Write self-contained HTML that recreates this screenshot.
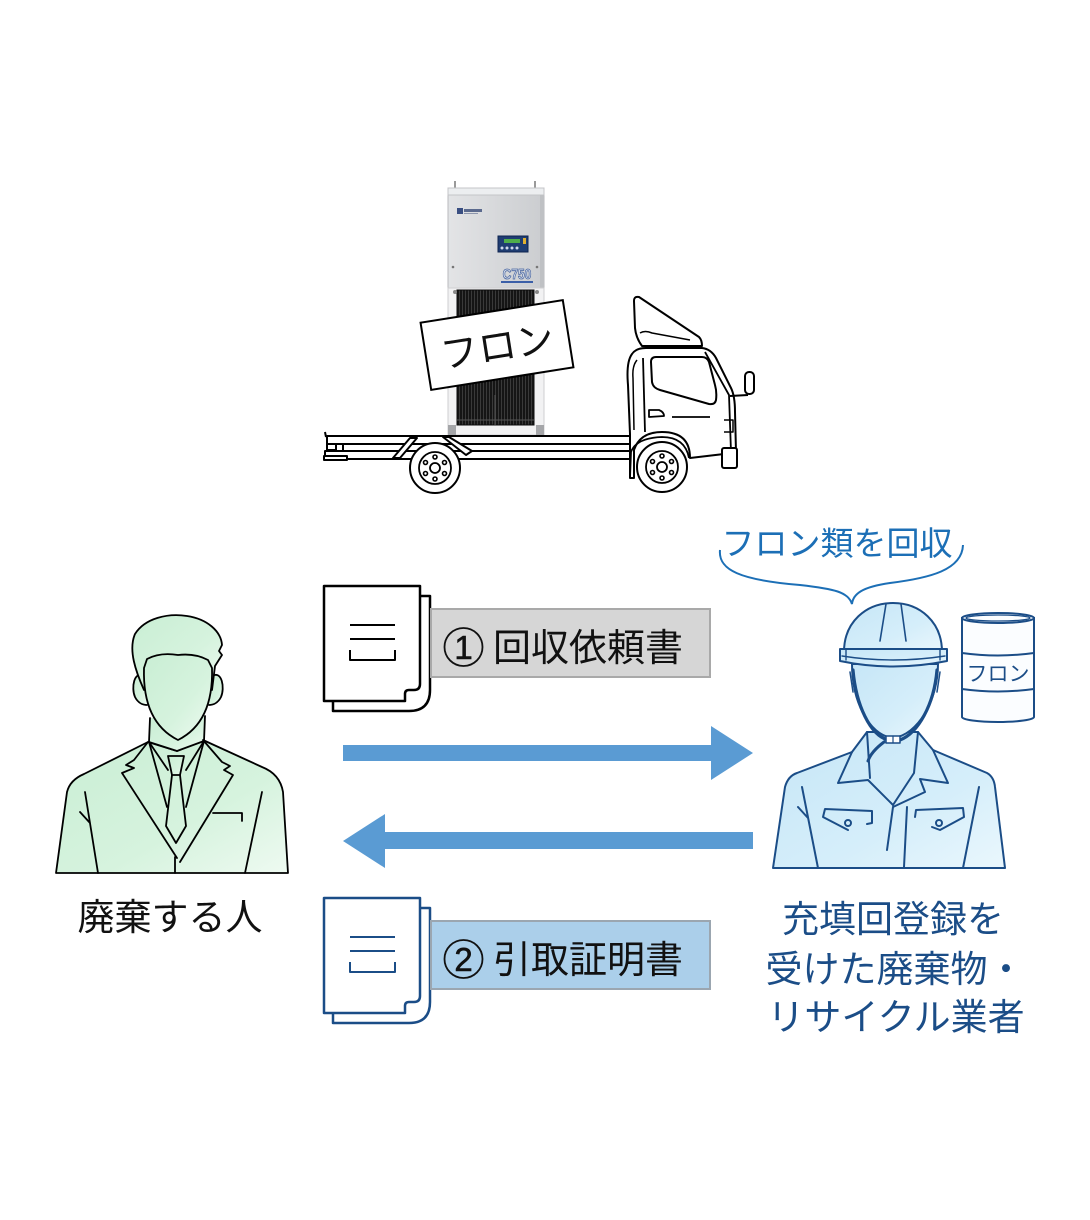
<!DOCTYPE html>
<html>
<head>
<meta charset="utf-8">
<style>
html,body{margin:0;padding:0;background:#fff;}
body{width:1090px;height:1220px;overflow:hidden;}
svg{display:block;}
text{font-family:"Liberation Sans","Noto Sans CJK JP",sans-serif;}
</style>
</head>
<body>
<svg width="1090" height="1220" viewBox="0 0 1090 1220" xmlns="http://www.w3.org/2000/svg">
<defs>
  <linearGradient id="gGreen" x1="0" y1="0" x2="1" y2="1">
    <stop offset="0" stop-color="#c9eed4"/>
    <stop offset="0.6" stop-color="#d6f3de"/>
    <stop offset="1" stop-color="#eefaf1"/>
  </linearGradient>
  <linearGradient id="gBlue" x1="0" y1="0" x2="1" y2="1">
    <stop offset="0" stop-color="#c6e6f7"/>
    <stop offset="0.6" stop-color="#d5eefa"/>
    <stop offset="1" stop-color="#eaf7fd"/>
  </linearGradient>
  <linearGradient id="gMach" x1="0" y1="0" x2="1" y2="0">
    <stop offset="0" stop-color="#e3e4e6"/>
    <stop offset="1" stop-color="#cbcdd0"/>
  </linearGradient>
  <pattern id="rad" width="3" height="10" patternUnits="userSpaceOnUse">
    <rect width="3" height="10" fill="#151515"/>
    <rect x="0" width="1" height="10" fill="#3a3a3a"/>
  </pattern>
</defs>

<!-- ================= MACHINE ================= -->
<g>
  <line x1="455" y1="181" x2="455" y2="191" stroke="#9a9a9a" stroke-width="2"/>
  <line x1="535" y1="181" x2="535" y2="191" stroke="#9a9a9a" stroke-width="2"/>
  <rect x="448" y="188" width="96" height="102" fill="url(#gMach)" stroke="#b9babd" stroke-width="1"/>
  <rect x="448" y="188" width="96" height="7" fill="#eceef0" stroke="#c4c5c8" stroke-width="1"/>
  <rect x="540" y="195" width="4" height="95" fill="#bfc1c4"/>
  <rect x="457" y="208" width="6" height="6" fill="#3a4f82"/>
  <rect x="464" y="209" width="18" height="3" fill="#5b6a8e"/>
  <rect x="464" y="213" width="14" height="1" fill="#8e97ad"/>
  <rect x="498" y="236" width="30" height="16" fill="#1f3d72" stroke="#0e2450" stroke-width="1"/>
  <rect x="504" y="239" width="16" height="4" fill="#4fae4a"/>
  <rect x="523" y="238" width="3" height="6" fill="#e0b030"/>
  <circle cx="502" cy="248" r="1.5" fill="#cfd8ea"/>
  <circle cx="507" cy="248" r="1.5" fill="#cfd8ea"/>
  <circle cx="512" cy="248" r="1.5" fill="#cfd8ea"/>
  <circle cx="517" cy="248" r="1.5" fill="#cfd8ea"/>
  <text x="517" y="279" text-anchor="middle" font-size="15" font-weight="bold" fill="#d7deea" stroke="#4a66a0" stroke-width="0.8" transform="translate(517,0) scale(0.8,1) translate(-517,0)">C750</text>
  <rect x="501" y="281" width="32" height="2" fill="#3b5fa8"/>
  <circle cx="453" cy="267" r="1.3" fill="#777"/>
  <circle cx="537" cy="267" r="1.3" fill="#777"/>
  <rect x="448" y="288" width="96" height="147" fill="#f2f2f3" stroke="#cfcfd1" stroke-width="1"/>
  <rect x="457" y="290" width="77" height="135" fill="url(#rad)"/>
  <rect x="457" y="290" width="77" height="135" fill="none" stroke="#0b0b0b" stroke-width="1"/>
  <line x1="457" y1="420" x2="534" y2="420" stroke="#555" stroke-width="1"/>
  <line x1="495" y1="395" x2="495" y2="425" stroke="#555" stroke-width="1"/>
  <circle cx="455" cy="292" r="2" fill="#888"/>
  <circle cx="537" cy="292" r="2" fill="#888"/>
  <rect x="448" y="425" width="8" height="12" fill="#a5a6a9"/>
  <rect x="536" y="425" width="8" height="12" fill="#a5a6a9"/>
</g>

<!-- sign -->
<g transform="rotate(-9 497 345)">
  <rect x="425" y="311" width="144" height="68" fill="#fff" stroke="#000" stroke-width="2"/>
  <text x="497" y="360" text-anchor="middle" font-size="38" fill="#111">フロン</text>
</g>

<!-- ================= TRUCK ================= -->
<g fill="#fff" stroke="#000" stroke-width="2" stroke-linejoin="round">
  <path d="M325,432 L326,437" fill="none"/>
  <rect x="327" y="436" width="303" height="8"/>
  <rect x="327" y="444" width="9" height="6"/>
  <line x1="343" y1="444" x2="343" y2="451"/>
  <rect x="325" y="451" width="308" height="8"/>
  <rect x="324" y="456" width="23" height="4" fill="#fff"/>
  <path d="M393,458 L410,438 L417,438 L400,458 Z"/>
  <path d="M443,437 L449,437 L472,451 L466,455 Z"/>
  <path d="M634,301 Q634,296 639,297 L699,337 Q702,340 702,346 L642,346 Q636,338 635,328 Z"/>
  <path d="M640,333 Q645,330 652,333 L690,340" fill="none" stroke-width="1.5"/>
  <path d="M630,434 L628,385 Q626,362 632,354 Q636,348 646,348 L702,348 Q711,349 716,358 L731,388 Q735,396 735,412 L736,452 L724,454 L690,458 Q690,432 662,432 Q640,432 634,450 L634,478 L630,478 Z"/>
  <path d="M634,430 L633,378 Q632,366 637,360" fill="none" stroke-width="1.5"/>
  <path d="M643,358 L645,432" fill="none" stroke-width="1.8"/>
  <path d="M705,352 L729,395 L731,452" fill="none" stroke-width="1.8"/>
  <path d="M651,362 Q651,357 656,357 L702,357 Q707,357 709,362 L715,385 Q717,392 716,400 Q715,405 709,404 L660,390 Q653,388 652,382 Z"/>
  <path d="M649,410 L659,410 Q664,412 664,416 L649,417 Z" stroke-width="1.8"/>
  <line x1="672" y1="417" x2="710" y2="417" stroke-width="1.8"/>
  <path d="M724,420 L733,420 L733,432 L724,432" fill="none" stroke-width="1.5"/>
  <rect x="722" y="448" width="15" height="20" rx="2"/>
  <path d="M730,396 L748,395" fill="none" stroke-width="2"/>
  <rect x="745" y="372" width="9" height="22" rx="4"/>
  <path d="M630,478 L631,452 Q636,438 662,437 Q685,437 689,458" fill="none" stroke-width="1.8"/>
  <circle cx="435" cy="468" r="25"/>
  <circle cx="435" cy="468" r="16" stroke-width="1.8"/>
  <circle cx="435" cy="468" r="5" stroke-width="1.8"/>
  <circle cx="662" cy="467" r="25"/>
  <circle cx="662" cy="467" r="16" stroke-width="1.8"/>
  <circle cx="662" cy="467" r="5" stroke-width="1.8"/>
</g>
<g fill="none" stroke="#000" stroke-width="1.6">
  <circle cx="435" cy="457" r="2"/><circle cx="444.5" cy="462.5" r="2"/><circle cx="444.5" cy="473.5" r="2"/>
  <circle cx="435" cy="479" r="2"/><circle cx="425.5" cy="473.5" r="2"/><circle cx="425.5" cy="462.5" r="2"/>
  <circle cx="662" cy="456" r="2"/><circle cx="671.5" cy="461.5" r="2"/><circle cx="671.5" cy="472.5" r="2"/>
  <circle cx="662" cy="478" r="2"/><circle cx="652.5" cy="472.5" r="2"/><circle cx="652.5" cy="461.5" r="2"/>
</g>

<!-- ================= DOCUMENT 1 ================= -->
<g fill="#fff" stroke="#000" stroke-width="2.5" stroke-linejoin="round">
  <path d="M333,596 L430,596 L430,690 Q430,711 409,711 L333,711 Z"/>
  <path d="M324,586 L420,586 L420,684 Q420,690 414,690 L409,690 Q405,690 405,694 L405,701 L324,701 Z"/>
  <path d="M350,625 L395,625 M350,639 L395,639 M350,650 L350,660 L395,660 L395,650" fill="none" stroke-width="2"/>
</g>
<rect x="431" y="609" width="279" height="68" fill="#d6d6d6" stroke="#a9a9a9" stroke-width="2"/>
<circle cx="463.5" cy="647" r="19" fill="none" stroke="#111" stroke-width="1.8"/>
<text x="463.5" y="659" text-anchor="middle" font-size="33" fill="#111" stroke="#111" stroke-width="0.6">1</text>
<text x="493" y="661" font-size="38" fill="#111">回収依頼書</text>

<!-- ================= DOCUMENT 2 ================= -->
<g transform="translate(0,312)" fill="#fff" stroke="#1b4d87" stroke-width="2.5" stroke-linejoin="round">
  <path d="M333,596 L430,596 L430,690 Q430,711 409,711 L333,711 Z"/>
  <path d="M324,586 L420,586 L420,684 Q420,690 414,690 L409,690 Q405,690 405,694 L405,701 L324,701 Z"/>
  <path d="M350,625 L395,625 M350,639 L395,639 M350,650 L350,660 L395,660 L395,650" fill="none" stroke-width="2"/>
</g>
<rect x="431" y="921" width="279" height="68" fill="#abcfea" stroke="#9ba6b0" stroke-width="2"/>
<circle cx="463.5" cy="959" r="19" fill="none" stroke="#111" stroke-width="1.8"/>
<text x="463.5" y="971" text-anchor="middle" font-size="33" fill="#111" stroke="#111" stroke-width="0.6">2</text>
<text x="493" y="973" font-size="38" fill="#111">引取証明書</text>

<!-- ================= ARROWS ================= -->
<polygon points="343,745 711,745 711,726 753,753 711,780 711,761 343,761" fill="#5a9bd3"/>
<polygon points="753,832 385,832 385,814 343,841 385,868 385,849 753,849" fill="#5a9bd3"/>

<!-- ================= LEFT PERSON ================= -->
<g stroke="#000" stroke-width="1.8" stroke-linejoin="round" stroke-linecap="round">
  <path d="M56,873 L67,792 Q70,780 84,774 L148,742 L177,751 L203,740 L262,767 Q280,774 283,792 L288,873 Z" fill="url(#gGreen)"/>
  <path d="M150,718 L149,742 L177,751 L204,741 L205,716" fill="url(#gGreen)"/>
  <path d="M144,676 C134,670 131,688 135,697 C138,703 143,705 147,705" fill="url(#gGreen)"/>
  <path d="M212,676 C222,670 225,688 221,697 C218,703 213,705 209,705" fill="url(#gGreen)"/>
  <path d="M144,690 C136,672 128,650 135,634 C145,618 168,613 187,616 C207,619 221,631 222,645 L219,651 L222,655 L215,666 L212,690 Z" fill="url(#gGreen)"/>
  <path d="M144,668 C143,700 152,727 178,740 C204,727 213,700 212,668 L208,660 Q195,653 178,655 Q160,652 147,659 Z" fill="url(#gGreen)"/>
  <path d="M149,742 L167,807 M204,741 L186,807" fill="none"/>
  <path d="M149,742 L168,770 M204,741 L186,770" fill="none"/>
  <path d="M168,756 L184,756 L180,775 L172,775 Z" fill="url(#gGreen)"/>
  <path d="M172,775 L166,826 L176,843 L186,826 L180,775" fill="none"/>
  <path d="M148,742 L134,760 L126,765 L134,768 L122,773 L177,858" fill="none"/>
  <path d="M203,740 L222,762 L230,766 L224,770 L233,775 L180,862" fill="none"/>
  <path d="M175,857 L175,873" fill="none"/>
  <path d="M85,792 L98,873 M80,812 L90,823 M262,792 L245,873" fill="none"/>
  <path d="M213,813 L242,813 L242,821" fill="none"/>
</g>
<text x="170" y="930" text-anchor="middle" font-size="37" fill="#111">廃棄する人</text>

<!-- ================= WORKER ================= -->
<g stroke="#1b4d87" stroke-width="2" stroke-linejoin="round" stroke-linecap="round">
  <path d="M773,868 L785,787 Q788,776 797,773 L852,752 L867,732 L918,732 L933,750 L987,773 Q994,777 995,787 L1005,868 Z" fill="url(#gBlue)"/>
  <path d="M852,752 L838,783 L868,780 L893,805" fill="none"/>
  <path d="M867,732 L870,778" fill="none"/>
  <path d="M933,750 L948,783 L920,779 L925,792 L893,807" fill="none"/>
  <path d="M918,732 L914,773 L893,805" fill="none"/>
  <path d="M893,807 L887,850 M907,807 L904,867" fill="none"/>
  <path d="M848,830 L823,817 L825,809 L872,811 L872,823 L867,824" fill="none"/>
  <circle cx="848" cy="823" r="3" fill="none"/>
  <path d="M915,817 L916,810 L963,808 L964,817 L940,830 L932,827" fill="none"/>
  <circle cx="939" cy="823" r="3" fill="none"/>
  <path d="M802,787 L818,868 M798,807 L808,818 M979,787 L963,868" fill="none"/>
  <path d="M852,664 C852,700 868,735 893,738 C918,735 938,700 938,664 Z" fill="url(#gBlue)"/>
  <path d="M853,670 C856,705 870,735 888,740 L900,740 C918,733 934,705 937,670" fill="none" stroke-width="3.2"/>
  <path d="M884,742 C876,748 870,755 868,761" fill="none" stroke-width="3"/>
  <rect x="886" y="736" width="14" height="7" fill="#fff" stroke-width="1.5"/>
  <line x1="893" y1="736" x2="893" y2="743" stroke-width="1.2"/>
  <path d="M850,672 L853,692 M940,672 L937,692" fill="none" stroke-width="1.5"/>
  <path d="M844,652 C844,622 866,603 893,603 C920,603 942,622 942,652 Z" fill="url(#gBlue)"/>
  <path d="M886,604 L880,641 M901,604 L906,641" fill="none" stroke-width="1.6"/>
  <path d="M840,649 L947,649 L947,661 Q893,672 840,661 Z" fill="url(#gBlue)"/>
  <path d="M842,656 Q893,664 945,656" fill="none" stroke-width="1.4"/>
  <path d="M846,649 L846,660 M940,649 L940,660" fill="none" stroke-width="1.4"/>
</g>

<!-- drum -->
<g stroke="#1b4d87" stroke-width="2" fill="#fbfdff">
  <path d="M962,618 L962,717 A36,5 0 0 0 1034,717 L1034,618 Z"/>
  <ellipse cx="998" cy="618" rx="36" ry="5"/>
  <ellipse cx="998" cy="618" rx="32" ry="3" fill="none" stroke-width="1.3"/>
  <path d="M962,653 Q998,658 1034,653 M962,689 Q998,694 1034,689" fill="none"/>
</g>
<text x="998" y="681" text-anchor="middle" font-size="21" fill="#1b4d87">フロン</text>

<!-- speech -->
<path d="M720,550 C718,570 740,580 800,585 C835,589 848,592 852,604 C853,594 862,587 890,583 C930,578 962,570 963,545" fill="none" stroke="#1c6fb6" stroke-width="2"/>
<text x="837" y="555" text-anchor="middle" font-size="33" fill="#1c6fb6">フロン類を回収</text>

<!-- right label -->
<g font-size="37" fill="#1b4d87" text-anchor="middle">
  <text x="893" y="932">充填回登録を</text>
  <text x="895" y="982">受けた廃棄物・</text>
  <text x="896" y="1030">リサイクル業者</text>
</g>
</svg>
</body>
</html>
